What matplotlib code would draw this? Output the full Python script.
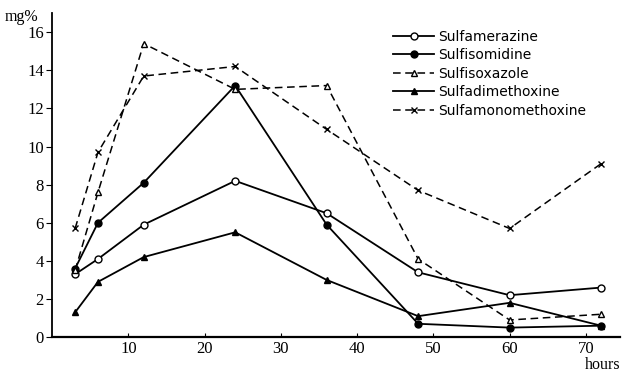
import matplotlib
matplotlib.use("Agg")
import matplotlib.pyplot as plt

hours = [3, 6, 12, 24, 36, 48, 60, 72]
sulfamerazine = [3.3, 4.1, 5.9, 8.2, 6.5, 3.4, 2.2, 2.6]
sulfisomidine = [3.6, 6.0, 8.1, 13.2, 5.9, 0.7, 0.5, 0.6]
sulfisoxazole = [3.5, 7.6, 15.4, 13.0, 13.2, 4.1, 0.9, 1.2]
sulfadimethoxine = [1.3, 2.9, 4.2, 5.5, 3.0, 1.1, 1.8, 0.6]
sulfamonomethoxine = [5.7, 9.7, 13.7, 14.2, 10.9, 7.7, 5.7, 9.1]

x_ticks = [10, 20, 30, 40, 50, 60, 70]
y_ticks = [0, 2, 4, 6, 8, 10, 12, 14, 16]

series = [
    ("Sulfamerazine", sulfamerazine, "-", "o", "white"),
    ("Sulfisomidine", sulfisomidine, "-", "o", "black"),
    ("Sulfisoxazole", sulfisoxazole, "--", "^", "white"),
    ("Sulfadimethoxine", sulfadimethoxine, "-", "^", "black"),
    ("Sulfamonomethoxine", sulfamonomethoxine, "--", "x", "black"),
]

fig = plt.figure(figsize=(6.22, 3.75), dpi=100)
ax = fig.add_axes([0.084, 0.101, 0.913, 0.864])

for name, vals, ls, mk, fc in series:
    ax.plot(hours, vals, ls=ls, color="black", lw=1.3 if ls == "-" else 1.1,
            marker=mk, ms=5 if mk != "x" else 4.5, mfc=fc, mec="black",
            mew=1.0, dashes=(5, 3) if ls == "--" else (None, None),
            label=name)

ax.set_xlim(0, 74.5)
ax.set_ylim(0, 17)
ax.set_xticks(x_ticks)
ax.set_yticks(y_ticks)
for s in ("top", "right"):
    ax.spines[s].set_visible(False)
ax.spines["left"].set_linewidth(1.3)
ax.spines["bottom"].set_linewidth(1.6)
ax.tick_params(axis="x", direction="in", length=3, pad=3)
ax.tick_params(axis="y", direction="out", length=4, pad=2)
for lab in ax.get_xticklabels() + ax.get_yticklabels():
    lab.set_family("Liberation Serif")
    lab.set_fontsize(12)

fig.text(0.008, 0.955, "mg%", family="Liberation Serif", fontsize=11.5,
         ha="left", va="center")
fig.text(0.997, 0.005, "hours", family="Liberation Serif", fontsize=11.5,
         ha="right", va="bottom")

leg = ax.legend(loc="upper left", bbox_to_anchor=(0.585, 0.975), frameon=False,
                handlelength=3.0, handletextpad=0.25, labelspacing=0.33,
                borderaxespad=0.2, prop={"family": "DejaVu Sans", "size": 10})

fig.savefig("out.png", dpi=100)
